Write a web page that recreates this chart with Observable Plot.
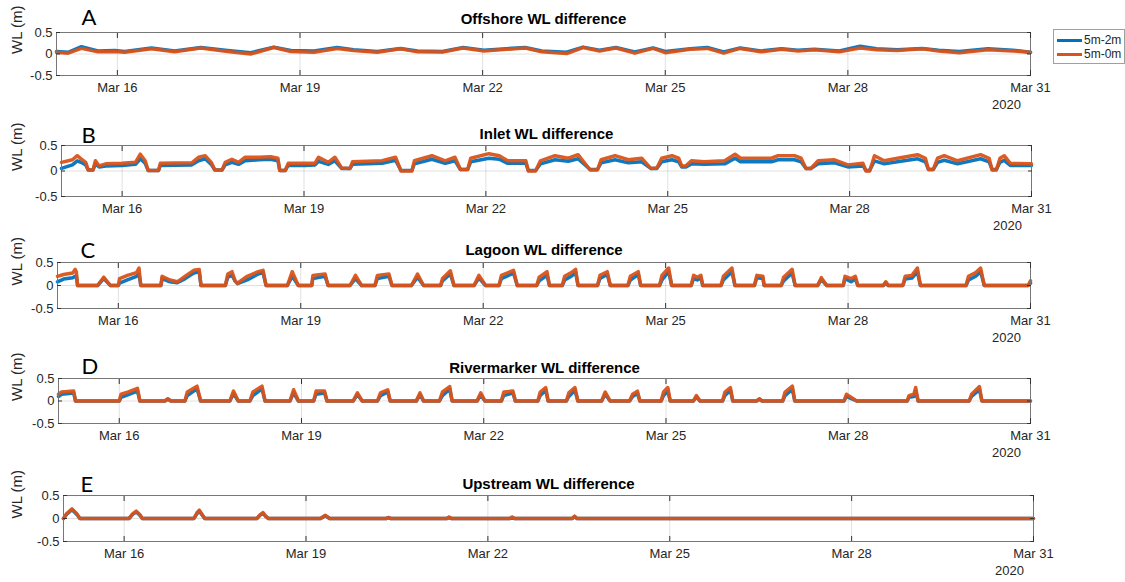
<!DOCTYPE html>
<html><head><meta charset="utf-8">
<script src="https://cdn.jsdelivr.net/npm/d3@7"></script>
<script src="https://cdn.jsdelivr.net/npm/@observablehq/plot@0.6"></script>
<style>
body{margin:0;background:#fff;}
#chart{position:relative;width:1125px;height:582px;overflow:hidden;font-family:"Liberation Sans",Arial,sans-serif;}
#legend{position:absolute;left:1053px;top:29px;width:70px;height:33px;border:1px solid #a0a0a0;background:#fff;font-size:12px;color:#262626;}
.item{position:absolute;left:3px;height:14px;display:flex;align-items:center;}
.sw{width:25px;height:3px;margin-right:2px;}
</style></head><body><div id="chart"></div>
<script>
// ---------- data (days since 2020-03-15 00:00 UTC) ----------
const seriesNames = ["5m-2m", "5m-0m"];
const seriesColors = ["#0072BD", "#D95319"];
const panelTitles = ["Offshore WL difference", "Inlet WL difference", "Lagoon WL difference", "Rivermarker WL difference", "Upstream WL difference"];
const panelLetters = ["A", "B", "C", "D", "E"];
const tickDays = [16, 19, 22, 25, 28, 31];
const yTicks = [-0.5, 0, 0.5];
const yearLabel = "2020";
const yLabel = "WL (m)";

const offshoreDays = [0,0.19,0.41,0.68,0.96,1.12,1.56,1.94,2.37,2.81,3.19,3.57,3.85,4.23,4.61,4.88,5.27,5.65,5.93,6.34,6.68,7.02,7.70,7.97,8.38,8.65,8.92,9.19,9.5,9.8,10.0,10.41,10.69,10.96,11.23,11.57,11.91,12.18,12.45,12.86,13.2,13.47,13.81,14.22,14.49,14.83,15.3,15.71,16.0];
const offshore0m = [0.04,0.02,0.13,0.05,0.06,0.04,0.12,0.05,0.14,0.06,0.0,0.15,0.06,0.04,0.13,0.08,0.04,0.12,0.05,0.045,0.14,0.07,0.14,0.05,0.01,0.15,0.07,0.14,0.02,0.13,0.03,0.11,0.13,0.02,0.13,0.05,0.11,0.07,0.10,0.05,0.14,0.10,0.08,0.12,0.07,0.03,0.10,0.07,0.04];
const offshore2m = [0.06,0.04,0.17,0.07,0.08,0.06,0.14,0.07,0.15,0.08,0.03,0.16,0.08,0.07,0.15,0.10,0.06,0.13,0.07,0.06,0.15,0.09,0.15,0.07,0.04,0.16,0.09,0.15,0.05,0.14,0.06,0.12,0.15,0.05,0.14,0.07,0.12,0.09,0.11,0.07,0.18,0.12,0.10,0.13,0.09,0.06,0.12,0.09,0.04];

const inletDays = [0,0.18,0.26,0.34,0.40,0.44,0.52,0.56,0.62,0.73,1.00,1.22,1.30,1.38,1.43,1.60,1.63,2.15,2.26,2.37,2.47,2.53,2.65,2.70,2.81,2.92,3.03,3.25,3.45,3.57,3.60,3.69,3.74,4.02,4.18,4.24,4.40,4.51,4.62,4.76,4.80,5.29,5.51,5.60,5.78,5.82,6.11,6.33,6.49,6.58,6.70,6.75,7.05,7.22,7.36,7.66,7.70,7.82,7.90,8.14,8.36,8.52,8.72,8.84,8.90,9.13,9.35,9.57,9.72,9.82,9.90,10.07,10.18,10.23,10.30,10.39,10.60,10.94,11.11,11.20,11.38,11.71,11.82,12.09,12.20,12.28,12.36,12.48,12.75,12.97,13.22,13.27,13.33,13.41,13.57,13.79,14.12,14.25,14.30,14.38,14.45,14.56,14.78,15.16,15.30,15.35,15.42,15.48,15.55,15.65,16.0];
const inlet0m = [0.17,0.22,0.30,0.22,0.17,0.02,0.02,0.20,0.10,0.14,0.15,0.17,0.33,0.20,0.01,0.01,0.15,0.16,0.27,0.30,0.17,0.02,0.02,0.17,0.23,0.17,0.27,0.27,0.28,0.25,0.01,0.01,0.15,0.15,0.15,0.27,0.17,0.27,0.06,0.05,0.18,0.20,0.27,0.00,0.00,0.20,0.30,0.20,0.27,0.03,0.03,0.25,0.34,0.30,0.20,0.20,0.00,0.00,0.20,0.30,0.25,0.32,0.02,0.02,0.22,0.30,0.22,0.25,0.05,0.06,0.25,0.30,0.25,0.10,0.10,0.20,0.18,0.20,0.33,0.25,0.25,0.25,0.30,0.30,0.25,0.05,0.05,0.20,0.22,0.12,0.15,0.00,0.00,0.30,0.20,0.25,0.32,0.25,0.03,0.03,0.25,0.30,0.20,0.32,0.25,0.02,0.02,0.25,0.30,0.15,0.14];
const inlet2m = [0.05,0.12,0.20,0.16,0.12,0.02,0.02,0.14,0.08,0.10,0.11,0.13,0.24,0.15,0.01,0.01,0.11,0.12,0.20,0.24,0.13,0.02,0.02,0.12,0.17,0.13,0.20,0.22,0.23,0.20,0.01,0.01,0.11,0.11,0.12,0.19,0.13,0.20,0.05,0.05,0.13,0.15,0.21,0.01,0.01,0.14,0.23,0.15,0.20,0.03,0.03,0.18,0.25,0.23,0.15,0.15,0.01,0.01,0.14,0.22,0.19,0.24,0.03,0.03,0.16,0.22,0.16,0.18,0.05,0.05,0.18,0.22,0.18,0.08,0.08,0.14,0.13,0.14,0.25,0.18,0.18,0.18,0.22,0.22,0.18,0.05,0.05,0.14,0.16,0.08,0.10,0.01,0.01,0.20,0.14,0.18,0.24,0.18,0.03,0.03,0.17,0.21,0.14,0.24,0.18,0.03,0.03,0.17,0.21,0.11,0.11];

const lagoonDays = [0,0.10,0.25,0.29,0.31,0.33,0.66,0.76,0.87,1.00,1.02,1.15,1.30,1.34,1.37,1.70,1.72,1.85,1.97,2.10,2.24,2.33,2.36,2.76,2.80,2.87,2.92,2.96,3.12,3.30,3.38,3.43,3.78,3.86,3.96,4.18,4.20,4.40,4.45,4.81,4.90,5.00,5.22,5.26,5.45,5.50,5.82,5.92,6.02,6.30,6.33,6.46,6.52,6.85,6.93,7.04,7.26,7.30,7.50,7.56,7.88,7.92,8.05,8.09,8.30,8.34,8.45,8.52,8.56,8.88,8.92,9.04,9.09,9.38,9.42,9.55,9.59,9.90,9.94,10.05,10.10,10.42,10.46,10.52,10.58,10.61,10.91,10.95,11.09,11.14,11.46,11.50,11.60,11.62,11.90,11.94,12.08,12.13,12.50,12.56,12.65,12.92,12.95,13.05,13.12,13.16,13.58,13.62,13.66,13.90,13.94,14.05,14.14,14.19,14.94,14.98,15.10,15.18,15.24,15.96,16.0];
const lagoon0m = [0.20,0.24,0.27,0.35,0.30,0,0,0.18,0,0,0.15,0.22,0.28,0.38,0,0,0.20,0.12,0.08,0.20,0.33,0.35,0,0,0.25,0.30,0.10,0.05,0.20,0.30,0.33,0,0,0.30,0,0,0.22,0.25,0,0,0.22,0,0,0.22,0.25,0,0,0.25,0,0,0.15,0.32,0,0,0.22,0,0,0.22,0.33,0,0,0.18,0.30,0,0,0.20,0.28,0.35,0,0,0.22,0.30,0,0,0.20,0.30,0,0,0.22,0.38,0,0,0.22,0.18,0.22,0,0,0.20,0.38,0,0,0.22,0.20,0,0,0.18,0.35,0,0,0.17,0,0,0.20,0.15,0.20,0,0,0.08,0,0,0.20,0.22,0.38,0,0,0.20,0.28,0.38,0,0,0.10];
const lagoon2m = [0.08,0.14,0.17,0.20,0.20,0,0,0.15,0,0,0.05,0.12,0.20,0.25,0,0,0.15,0.08,0.06,0.15,0.27,0.30,0,0,0.18,0.22,0.10,0.04,0.12,0.25,0.28,0,0,0.20,0,0,0.15,0.20,0,0,0.15,0,0,0.15,0.20,0,0,0.18,0,0,0.10,0.25,0,0,0.16,0,0,0.15,0.27,0,0,0.10,0.22,0,0,0.12,0.20,0.28,0,0,0.15,0.24,0,0,0.12,0.24,0,0,0.12,0.30,0,0,0.15,0.12,0.17,0,0,0.12,0.30,0,0,0.17,0.15,0,0,0.10,0.27,0,0,0.13,0,0,0.15,0.08,0.14,0,0,0.06,0,0,0.14,0.16,0.30,0,0,0.12,0.20,0.30,0,0,0.05];

const riverDays = [0,0.05,0.25,0.28,1.00,1.03,1.15,1.30,1.34,1.75,1.80,1.85,2.08,2.12,2.28,2.34,2.82,2.88,2.96,3.15,3.20,3.35,3.40,3.81,3.87,3.95,4.20,4.24,4.38,4.42,4.85,4.92,5.00,5.25,5.30,5.42,5.46,5.89,5.95,6.01,6.27,6.32,6.44,6.48,6.89,6.95,7.02,7.29,7.33,7.48,7.52,7.89,7.93,8.02,8.06,8.36,8.40,8.50,8.55,8.94,9.00,9.08,9.40,9.45,9.53,9.57,9.92,9.96,10.03,10.07,10.45,10.50,10.56,10.93,10.97,11.06,11.10,11.49,11.54,11.58,11.92,11.96,12.08,12.12,12.93,12.97,13.05,13.14,13.97,14.00,14.08,14.11,14.15,14.99,15.03,15.16,15.20,16.0];
const river0m = [0.15,0.20,0.22,0,0,0.15,0.20,0.28,0,0,0.05,0,0,0.20,0.33,0,0,0.22,0,0,0.20,0.33,0,0,0.25,0,0,0.22,0.22,0,0,0.18,0,0,0.18,0.25,0,0,0.18,0,0,0.20,0.32,0,0,0.18,0,0,0.20,0.22,0,0,0.20,0.30,0,0,0.18,0.30,0,0,0.20,0,0,0.15,0.22,0,0,0.20,0.30,0,0,0.12,0,0,0.20,0.30,0,0,0.05,0,0,0.20,0.33,0,0,0.15,0.08,0,0,0.12,0.15,0.30,0,0,0.15,0.32,0,0];
const river2m = [0.10,0.15,0.18,0,0,0.08,0.14,0.22,0,0,0.04,0,0,0.12,0.27,0,0,0.16,0,0,0.12,0.27,0,0,0.18,0,0,0.15,0.18,0,0,0.14,0,0,0.12,0.20,0,0,0.14,0,0,0.12,0.26,0,0,0.13,0,0,0.12,0.18,0,0,0.12,0.24,0,0,0.10,0.24,0,0,0.15,0,0,0.10,0.17,0,0,0.12,0.22,0,0,0.09,0,0,0.12,0.24,0,0,0.04,0,0,0.12,0.26,0,0,0.10,0.05,0,0,0.08,0.10,0.22,0,0,0.10,0.25,0,0];

const upstreamDays = [0,0.05,0.14,0.22,0.27,1.08,1.14,1.20,1.26,1.30,2.15,2.20,2.24,2.28,2.33,3.19,3.24,3.29,3.33,3.38,4.24,4.32,4.39,5.32,5.36,5.40,6.32,6.36,6.40,7.36,7.40,7.44,8.39,8.43,8.47,16.0];
const upstream0m = [0,0.10,0.21,0.10,0,0,0.10,0.16,0.08,0,0,0.12,0.18,0.10,0,0,0.08,0.13,0.06,0,0,0.07,0,0,0.02,0,0,0.03,0,0,0.03,0,0,0.05,0,0];
const upstream2m = [0,0.09,0.19,0.09,0,0,0.09,0.14,0.07,0,0,0.10,0.16,0.09,0,0,0.07,0.11,0.05,0,0,0.06,0,0,0.02,0,0,0.02,0,0,0.02,0,0,0.04,0,0];

// ---------- layout ----------
const panels = [
  {days: offshoreDays, s2: offshore2m, s0: offshore0m, top: 0,   left: 56, right: 1030, fTop: 32,  fBot: 75,  next: 113, ldx: 25, ldy: -15, tdy: -13},
  {days: inletDays,    s2: inlet2m,    s0: inlet0m,    top: 113, left: 61, right: 1031, fTop: 145, fBot: 196, next: 232, ldx: 20, ldy: -10, tdy: -11},
  {days: lagoonDays,   s2: lagoon2m,   s0: lagoon0m,   top: 232, left: 57, right: 1030, fTop: 262, fBot: 308, next: 348, ldx: 23, ldy: -12, tdy: -12},
  {days: riverDays,    s2: river2m,    s0: river0m,    top: 348, left: 58, right: 1030, fTop: 378, fBot: 423, next: 466, ldx: 23, ldy: -12, tdy: -10},
  {days: upstreamDays, s2: upstream2m, s0: upstream0m, top: 466, left: 63, right: 1033, fTop: 495, fBot: 541, next: 582, ldx: 17, ldy: -11, tdy: -11}
];

const T0 = Date.UTC(2020, 2, 15);
const toDate = d => new Date(T0 + d * 86400000);
const xDomain = [toDate(0), toDate(16)];
const xTicks = tickDays.map(d => new Date(Date.UTC(2020, 2, d)));
const fmt = d3.utcFormat("%b %-d");
const W = 1060;
const chart = document.getElementById("chart");

panels.forEach((p, i) => {
  const rows = [];
  [p.s2, p.s0].forEach((vals, k) => p.days.forEach((d, j) => rows.push({date: toDate(d), v: vals[j], s: seriesNames[k]})));
  const h = p.next - p.top;
  const svg = Plot.plot({
    width: W, height: h,
    marginLeft: p.left, marginRight: W - p.right,
    marginTop: p.fTop - p.top, marginBottom: p.next - p.fBot,
    x: {type: "utc", domain: xDomain},
    y: {domain: [-0.5, 0.5]},
    color: {domain: seriesNames, range: seriesColors},
    style: {fontFamily: "'Liberation Sans', Arial, sans-serif", fontSize: "13px", color: "#262626", background: "transparent", overflow: "visible"},
    marks: [
      Plot.gridX(xTicks, {stroke: "#000", strokeOpacity: 0.12}),
      Plot.gridY([0], {stroke: "#000", strokeOpacity: 0.12}),
      Plot.line(rows, {x: "date", y: "v", z: "s", stroke: "s", strokeWidth: 3.5, strokeOpacity: 0.95}),
      Plot.frame({stroke: "#777"}),
      Plot.axisX(xTicks, {tickSize: -5, tickPadding: 12, tickFormat: fmt, label: null, stroke: "#333"}),
      Plot.axisX(xTicks, {anchor: "top", tickSize: -5, tickFormat: () => "", label: null, stroke: "#333"}),
      Plot.axisY(yTicks, {tickSize: -4, tickPadding: 8, tickFormat: d => d === 0 ? "0" : String(d), label: null, stroke: "#333"}),
      Plot.axisY(yTicks, {anchor: "right", tickSize: -4, tickFormat: () => "", label: null, stroke: "#333"}),
      Plot.text([yLabel], {frameAnchor: "left", dx: -(p.left - 16.5), rotate: -90, lineAnchor: "middle", fontSize: 15, fill: "#262626"}),
      Plot.text([panelTitles[i]], {frameAnchor: "top", dy: p.tdy, lineAnchor: "middle", fontWeight: "bold", fontSize: 15, fill: "#000"}),
      Plot.text([panelLetters[i]], {frameAnchor: "top-left", dx: p.ldx, dy: p.ldy, lineAnchor: "middle", fontSize: 22, fontFamily: "Lato, 'Open Sans', sans-serif", fill: "#000"}),
      Plot.text([xDomain[1]], {x: d => d, frameAnchor: "bottom", dy: 29, dx: -24, lineAnchor: "middle", text: () => yearLabel, fontSize: 13, fill: "#262626"})
    ]
  });
  svg.style.position = "absolute";
  svg.style.left = "0px";
  svg.style.top = p.top + "px";
  svg.style.maxWidth = "none";
  chart.appendChild(svg);
});

// legend
const lg = document.createElement("div");
lg.id = "legend";
seriesNames.forEach((n, k) => {
  const it = document.createElement("div");
  it.className = "item";
  it.style.top = (3 + k * 14) + "px";
  it.innerHTML = `<div class="sw" style="background:${seriesColors[k]}"></div><span>${n}</span>`;
  lg.appendChild(it);
});
chart.appendChild(lg);
</script></body></html>
